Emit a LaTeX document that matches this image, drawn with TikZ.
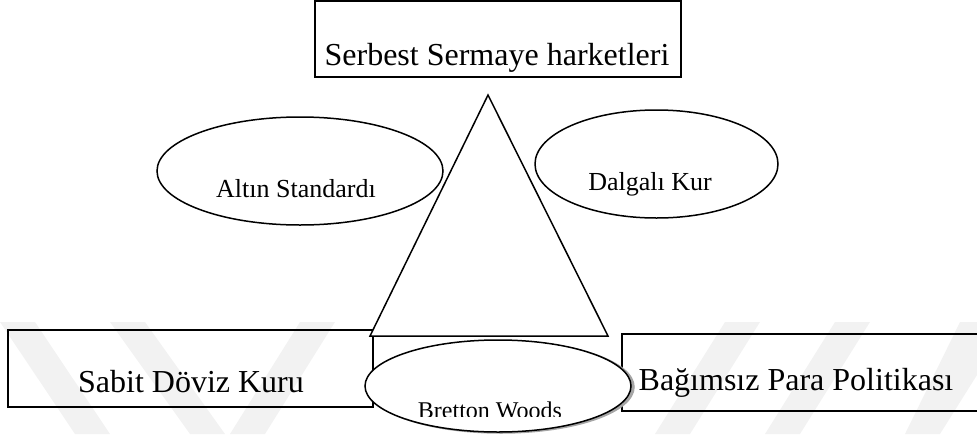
\documentclass[tikz,border=0pt]{standalone}
\usepackage{fontspec}
\setmainfont{Liberation Serif}
\usetikzlibrary{shapes.geometric}
\definecolor{wm}{HTML}{F2F2F2}
\tikzset{
  boxnode/.style={draw, line width=2pt, rectangle, inner sep=0pt, outer sep=0pt},
  ovalnode/.style={draw, line width=1.5pt, ellipse, fill=white, inner sep=0pt, outer sep=0pt},
  bigtext/.style={anchor=base, inner sep=0pt, font=\fontsize{32}{38}\selectfont},
  midtext/.style={anchor=base, inner sep=0pt, font=\fontsize{26}{31}\selectfont},
  wmband/.style={fill=wm, draw=none}
}
\begin{document}
\begin{tikzpicture}[x=1pt,y=-1pt]
\useasboundingbox (0,0) rectangle (977,434);
% faint watermark bands
\fill[wmband] (0,322) -- (35,322) -- (110,434) -- (75,434) -- cycle;
\fill[wmband] (110,322) -- (145,322) -- (225,434) -- (190,434) -- cycle;
\fill[wmband] (230,434) -- (265,434) -- (335,322) -- (300,322) -- cycle;
\fill[wmband] (655,434) -- (690,434) -- (760,322) -- (725,322) -- cycle;
\fill[wmband] (765,434) -- (800,434) -- (870,322) -- (835,322) -- cycle;
\fill[wmband] (905,434) -- (940,434) -- (977,375) -- (977,322) -- (960,322) -- cycle;
% boxes
\node[boxnode, minimum width=366pt, minimum height=76pt] (top) at (498,39) {};
\node[bigtext] (toptext) at (497,65) {Serbest Sermaye harketleri};
\node[boxnode, minimum width=365pt, minimum height=77pt] (sabit) at (190.5,368.5) {};
\node[bigtext] (sabittext) at (191,392) {Sabit Döviz Kuru};
\node[boxnode, minimum width=363pt, minimum height=77pt] (bag) at (803.5,372.5) {};
\node[bigtext] (bagtext) at (796,390) {Bağımsız Para Politikası};
% triangle
\coordinate (apex) at (488,95);
\coordinate (bl) at (370,336);
\coordinate (br) at (608,336);
\draw[line width=1.5pt, fill=white, line join=miter] (apex) -- (br) -- (bl) -- cycle;
% ellipses
\node[ovalnode, minimum width=286pt, minimum height=108pt] (altin) at (300,171) {};
\node[midtext] (altintext) at (296,197) {Altın Standardı};
\node[ovalnode, minimum width=243pt, minimum height=108pt] (dalgali) at (656.5,164) {};
\node[midtext] (dalgalitext) at (650,190) {Dalgalı Kur};
\node[ellipse, fill=gray!70, draw=gray!70, line width=1.5pt, minimum width=266pt, minimum height=92pt, inner sep=0pt] (brshadow) at (501,387) {};
\node[ovalnode, minimum width=266pt, minimum height=92pt] (bretton) at (498,386) {};
\begin{scope}
\clip (360,340) rectangle (640,416);
\node[anchor=base, inner sep=0pt, font=\fontsize{24}{29}\selectfont] (brtext) at (490,418) {Bretton Woods};
\end{scope}
\end{tikzpicture}
\end{document}
